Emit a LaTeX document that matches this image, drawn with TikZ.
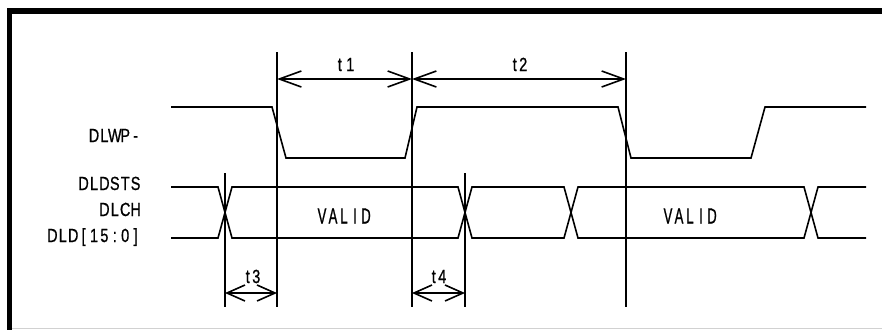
\documentclass[tikz,border=0pt]{standalone}
\usepackage{fontspec}
\setmainfont{Liberation Sans}
\newfontfamily\labfont{Liberation Sans}[FakeStretch=0.76,FakeBold=0.8]
\newfontfamily\valfont{Liberation Sans}[FakeStretch=0.6,FakeBold=0.8]
\usetikzlibrary{arrows.meta}
\makeatletter
\newcommand\monotxt[2]{\@tfor\mch:=#2\do{\makebox[#1][c]{\mch}}}
\makeatother
\tikzset{
  wave/.style={line width=1.6pt, line join=miter},
  guide/.style={line width=1.6pt},
  dimlong/.style={line width=1.6pt, {Straight Barb[length=22pt,width=16pt,line width=1.6pt]}-{Straight Barb[length=22pt,width=16pt,line width=1.6pt]}},
  dimshort/.style={line width=1.6pt, {Straight Barb[length=18pt,width=16pt,line width=1.6pt]}-{Straight Barb[length=18pt,width=16pt,line width=1.6pt]}},
  siglabel/.style={anchor=base east, inner sep=0pt, font=\labfont\fontsize{19pt}{19pt}\selectfont},
  tlabel/.style={anchor=base, inner sep=0pt, font=\labfont\fontsize{19pt}{19pt}\selectfont},
  validlabel/.style={anchor=base, inner sep=0pt, font=\valfont\fontsize{22pt}{22pt}\selectfont},
}
\begin{document}
\begin{tikzpicture}[x=1pt,y=-1pt]
\useasboundingbox (0,0) rectangle (882,330);
% frame
\fill[black] (7,8) rectangle (882,14);
\fill[black] (7,8) rectangle (12,330);
\draw[line width=1pt, black!18] (12,328.5) -- (882,328.5);

% guide line coordinates
\coordinate (gA1) at (277,52);  \coordinate (gA2) at (277,307);
\coordinate (gB1) at (412,52);  \coordinate (gB2) at (412,307);
\coordinate (gC1) at (626,52);  \coordinate (gC2) at (626,307);
\coordinate (gD1) at (225,173); \coordinate (gD2) at (225,307);
\coordinate (gE1) at (465,173); \coordinate (gE2) at (465,307);
\foreach \g in {A,B,C,D,E} \draw[guide] (g\g1) -- (g\g2);

% DLWP- waveform
\draw[wave] (171,107) -- (272,107) -- (286,158) -- (405,158) -- (417,107)
  -- (618,107) -- (631,158) -- (751,158) -- (765,107) -- (866,107);

% bus waveform
\draw[wave] (171,187) -- (218,187) -- (232,238) -- (458,238) -- (472,187)
  -- (564,187) -- (578,238) -- (804,238) -- (818,187) -- (866,187);
\draw[wave] (171,238) -- (218,238) -- (232,187) -- (458,187) -- (472,238)
  -- (564,238) -- (578,187) -- (804,187) -- (818,238) -- (866,238);

% dimension arrows
\coordinate (a1) at (277,79); \coordinate (a2) at (412,79); \coordinate (a3) at (626,79);
\coordinate (b1) at (225,293); \coordinate (b2) at (277,293);
\coordinate (c1) at (412,293); \coordinate (c2) at (465,293);
\draw[dimlong] (a1) -- (a2);
\draw[dimlong] (a2) -- (a3);
\draw[dimshort] (b1) -- (b2);
\draw[dimshort] (c1) -- (c2);

% labels
\node[tlabel] (t1) at (345,71) {\monotxt{10.4pt}{t1}};
\node[tlabel] (t2) at (519,71) {\monotxt{8.5pt}{t2}};
\node[tlabel] (t3) at (252,283) {\monotxt{8.5pt}{t3}};
\node[tlabel] (t4) at (438,283) {\monotxt{8.5pt}{t4}};

\node[siglabel] (dlwp) at (141,142) {\monotxt{10.4pt}{DLWP-}};
\node[siglabel] (dldsts) at (141,190) {\monotxt{10.4pt}{DLDSTS}};
\node[siglabel] (dlch) at (141,216) {\monotxt{10.4pt}{DLCH}};
\node[siglabel] (dld) at (141,242) {\monotxt{10.4pt}{DLD[15:0]}};

\node[validlabel] (v1) at (344,223.5) {\monotxt{11pt}{VALID}};
\node[validlabel] (v2) at (690,223.5) {\monotxt{11pt}{VALID}};
\end{tikzpicture}
\end{document}
